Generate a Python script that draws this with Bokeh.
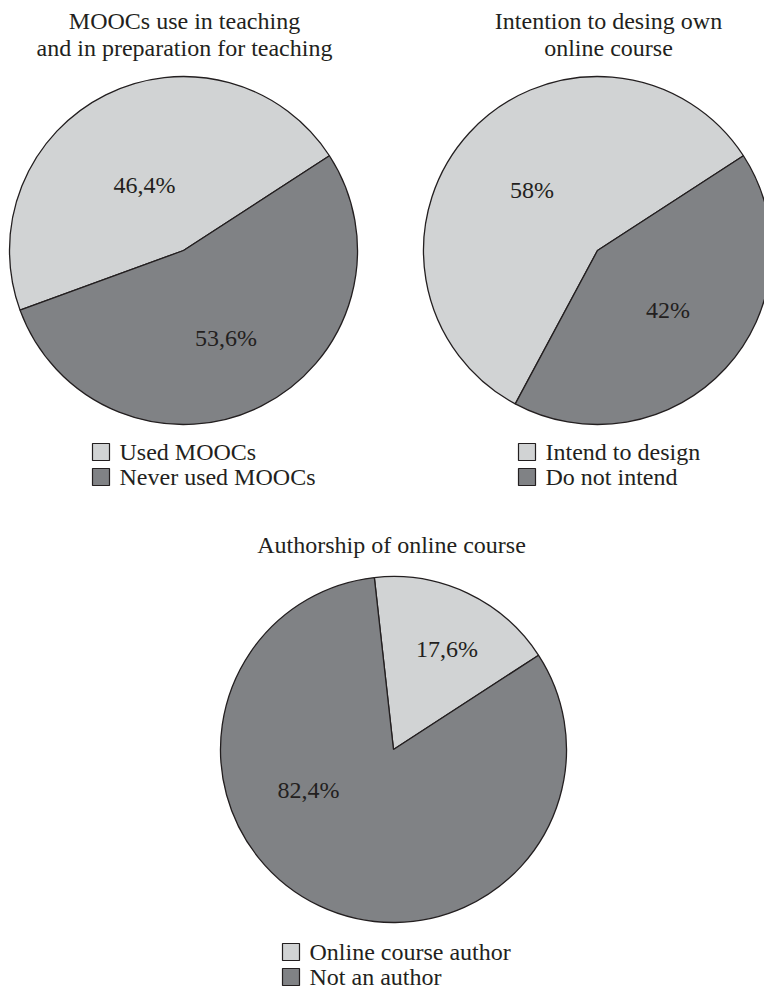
from math import radians

from bokeh.core.properties import value
from bokeh.embed import file_html
from bokeh.models import ColumnDataSource, Range1d
from bokeh.plotting import figure
from bokeh.resources import INLINE

# ---- data -------------------------------------------------------------
mooc_title = ["MOOCs use in teaching", "and in preparation for teaching"]
mooc_labels = ["Used MOOCs", "Never used MOOCs"]
mooc_values = [46.4, 53.6]

intent_title = ["Intention to desing own", "online course"]
intent_labels = ["Intend to design", "Do not intend"]
intent_values = [58, 42]

author_title = ["Authorship of online course"]
author_labels = ["Online course author", "Not an author"]
author_values = [17.6, 82.4]

# ---- styling / layout ---------------------------------------------------
W, H = 764, 991
FONT = value("Liberation Serif")
SIZE = value("24px")
INK = "#231f20"
SLICE_COLORS = ["#d1d3d4", "#808285"]
START_DEG = 33.0
TEXT_SHIFT = 9     # raise text so the drawn baseline lands on the target line

# every position below is in screen pixels measured from the top-left corner
charts = [
    dict(values=mooc_values, labels=mooc_labels, title=mooc_title,
         center=(183, 250), radius=174,
         title_x=184, title_y=29,
         label_offsets=[(-39, -57), (42.5, 96)],
         legend_x=92, legend_y=443),
    dict(values=intent_values, labels=intent_labels, title=intent_title,
         center=(597, 250), radius=174,
         title_x=608, title_y=29,
         label_offsets=[(-65.5, -52), (70.5, 68)],
         legend_x=518, legend_y=443),
    dict(values=author_values, labels=author_labels, title=author_title,
         center=(393, 749), radius=173,
         title_x=391, title_y=553,
         label_offsets=[(53.5, -92), (-85, 49)],
         legend_x=282, legend_y=943),
]
LINE_GAP = 27      # title line spacing
ROW_GAP = 25       # legend row spacing
BOX = 17           # legend swatch size
TEXT_GAP = 10      # swatch to legend text


def fy(py):
    """screen y (down) -> data y (up)"""
    return H - py


def ty(py):
    """screen baseline y -> data y for a text glyph"""
    return H - py + TEXT_SHIFT


def pct(v):
    s = f"{v:g}".replace(".", ",")
    return s + "%"


p = figure(width=W, height=H, x_range=Range1d(0, W), y_range=Range1d(0, H),
           x_axis_type=None, y_axis_type=None, toolbar_location=None,
           output_backend="svg", min_border=0, outline_line_color=None,
           background_fill_color="white", border_fill_color="white")
p.xgrid.visible = False
p.ygrid.visible = False

for c in charts:
    cx, cy = c["center"]
    total = sum(c["values"])
    starts, ends = [], []
    a = START_DEG
    for v in c["values"]:
        starts.append(radians(a))
        a += 360.0 * v / total
        ends.append(radians(a))

    wedges = ColumnDataSource(dict(
        x=[cx] * len(c["values"]), y=[fy(cy)] * len(c["values"]),
        start=starts, end=ends, color=SLICE_COLORS[:len(c["values"])]))
    p.wedge(x="x", y="y", radius=c["radius"], start_angle="start",
            end_angle="end", direction="anticlock", fill_color="color",
            line_color=INK, line_width=1.3, source=wedges)

    # percentage labels
    p.text(x=[cx + dx for dx, _ in c["label_offsets"]],
           y=[ty(cy + dy) for _, dy in c["label_offsets"]],
           text=[pct(v) for v in c["values"]],
           text_font=FONT, text_font_size=SIZE, text_color=INK,
           text_align="center", text_baseline="alphabetic")

    # title
    p.text(x=[c["title_x"]] * len(c["title"]),
           y=[ty(c["title_y"] + i * LINE_GAP) for i in range(len(c["title"]))],
           text=c["title"], text_font=FONT, text_font_size=SIZE,
           text_color=INK, text_align="center", text_baseline="alphabetic")

    # legend
    n = len(c["labels"])
    lx, ly = c["legend_x"], c["legend_y"]
    p.rect(x=[lx + BOX / 2] * n,
           y=[fy(ly + BOX / 2 + i * ROW_GAP) for i in range(n)],
           width=BOX, height=BOX, fill_color=SLICE_COLORS[:n],
           line_color=INK, line_width=1.2)
    p.text(x=[lx + BOX + TEXT_GAP] * n,
           y=[ty(ly + BOX + i * ROW_GAP) for i in range(n)],
           text=c["labels"], text_font=FONT, text_font_size=SIZE,
           text_color=INK, text_align="left", text_baseline="alphabetic")

open("out.html", "w").write(file_html(p, INLINE))
